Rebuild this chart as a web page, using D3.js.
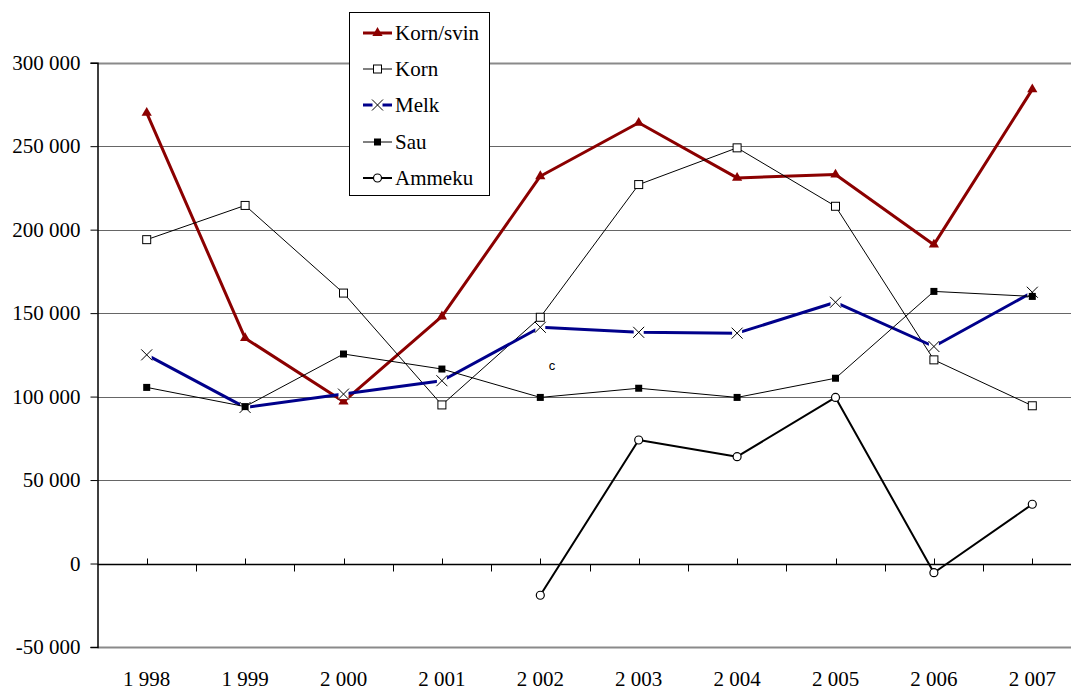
<!DOCTYPE html>
<html>
<head>
<meta charset="utf-8">
<script src="https://cdn.jsdelivr.net/npm/d3@7"></script>
<style>
  body { margin: 0; background: #fff; }
  svg { display: block; }
</style>
</head>
<body>
<svg id="chart" width="1071" height="690"></svg>
<script>
// Data
const years = [1998, 1999, 2000, 2001, 2002, 2003, 2004, 2005, 2006, 2007];
const kornSvin = [270000, 135000, 97000, 148000, 232000, 264000, 231000, 233000, 191000, 284000];
const korn = [194000, 214500, 162000, 95000, 147500, 227000, 249000, 214000, 122000, 94500];
const melk = [125000, 93500, 101500, 109500, 141500, 138500, 138000, 156500, 130000, 162500];
const sau = [105500, 94000, 125500, 116500, 99500, 105000, 99500, 111000, 163000, 160000];
const ammeku = [null, null, null, null, -19000, 74000, 64000, 99500, -5500, 35500];
const yTicks = [-50000, 0, 50000, 100000, 150000, 200000, 250000, 300000];

const series = [
  { name: "Korn/svin", values: kornSvin, color: "#8b0000", width: 3, marker: "triangle" },
  { name: "Korn", values: korn, color: "#000", width: 1, marker: "square-open" },
  { name: "Melk", values: melk, color: "#00008b", width: 3, marker: "x" },
  { name: "Sau", values: sau, color: "#000", width: 1, marker: "square" },
  { name: "Ammeku", values: ammeku, color: "#000", width: 2, marker: "circle" },
];

const svg = d3.select("#chart");
const serif = '"Liberation Serif"';

const locale = d3.formatLocale({ decimal: ",", thousands: " ", grouping: [3], currency: ["", ""], minus: "-" });
const fmt = locale.format(",d");

// scales
const x = d3.scaleBand().domain(years).range([97.5, 1081.5]);
const cx = (d) => x(d) + x.bandwidth() / 2;
const y = d3.scaleLinear().domain([-50000, 300000]).range([647, 62.7]);

// gridlines
svg.append("g")
  .selectAll("line")
  .data(yTicks.filter((d) => d !== 0))
  .join("line")
  .attr("x1", 97.5).attr("x2", 1071)
  .attr("y1", (d) => Math.round(y(d)) + 0.5).attr("y2", (d) => Math.round(y(d)) + 0.5)
  .attr("stroke", (d) => (d === 300000 || d === -50000 ? "#8a8a8a" : "#666"))
  .attr("stroke-width", (d) => (d === 300000 || d === -50000 ? 2 : 1));

// y axis
const yAxis = d3.axisLeft(y).tickValues(yTicks).tickSize(7).tickPadding(10).tickFormat(fmt);
const gy = svg.append("g").attr("transform", "translate(97.5,0)").call(yAxis);
gy.select(".domain").attr("stroke", "#000").attr("stroke-width", 1.5);
gy.selectAll(".tick line").attr("stroke", "#000");
gy.selectAll(".tick text")
  .style("font-family", serif).style("font-size", "21px").attr("fill", "#000");

// x axis at zero
const y0 = Math.round(y(0)) + 0.5;
svg.append("line").attr("x1", 97.5).attr("x2", 1071).attr("y1", y0).attr("y2", y0)
  .attr("stroke", "#000").attr("stroke-width", 1.3);
svg.append("g").selectAll("line").data(years).join("line")
  .attr("x1", (d) => Math.round(cx(d)) + 0.5).attr("x2", (d) => Math.round(cx(d)) + 0.5)
  .attr("y1", y0 - 6).attr("y2", y0).attr("stroke", "#000");
svg.append("g").selectAll("line").data(years.slice(1)).join("line")
  .attr("x1", (d) => Math.round(x(d)) + 0.5).attr("x2", (d) => Math.round(x(d)) + 0.5)
  .attr("y1", y0).attr("y2", y0 + 7).attr("stroke", "#000");

svg.append("g").selectAll("text").data(years).join("text")
  .attr("x", cx).attr("y", 686)
  .attr("text-anchor", "middle")
  .style("font-family", serif).style("font-size", "21px")
  .text((d) => fmt(d));

// markers
function drawMarker(g, type, color, px, py) {
  if (type === "triangle") {
    g.append("path").attr("d", d3.symbol(d3.symbolTriangle, 45)())
      .attr("transform", `translate(${px},${py})`).attr("fill", color);
  } else if (type === "square-open") {
    g.append("rect").attr("x", px - 4).attr("y", py - 4).attr("width", 8).attr("height", 8)
      .attr("fill", "#fff").attr("stroke", "#000").attr("stroke-width", 1);
  } else if (type === "square") {
    g.append("rect").attr("x", px - 3.5).attr("y", py - 3.5).attr("width", 7).attr("height", 7)
      .attr("fill", "#000");
  } else if (type === "x") {
    g.append("rect").attr("x", px - 5).attr("y", py - 5).attr("width", 10).attr("height", 10).attr("fill", "#fff");
    g.append("path").attr("d", `M${px - 5.5},${py - 5.5}L${px + 5.5},${py + 5.5}M${px - 5.5},${py + 5.5}L${px + 5.5},${py - 5.5}`)
      .attr("stroke", "#000").attr("stroke-width", 1);
  } else if (type === "circle") {
    g.append("circle").attr("cx", px).attr("cy", py).attr("r", 4)
      .attr("fill", "#fff").attr("stroke", "#000").attr("stroke-width", 1.2);
  }
}

// lines
const line = d3.line()
  .defined((d) => d.v !== null)
  .x((d) => cx(d.year))
  .y((d) => y(d.v));

series.forEach((s) => {
  const pts = years.map((yr, i) => ({ year: yr, v: s.values[i] }));
  const g = svg.append("g");
  g.append("path").datum(pts).attr("d", line)
    .attr("fill", "none").attr("stroke", s.color).attr("stroke-width", s.width)
    .attr("stroke-linejoin", "round");
  pts.filter((d) => d.v !== null).forEach((d) => drawMarker(g, s.marker, s.color, cx(d.year), y(d.v)));
});

// stray label
svg.append("text").attr("x", 552).attr("y", 370).attr("text-anchor", "middle")
  .style("font-family", '"Liberation Sans"').style("font-size", "13px").text("c");

// legend
const legend = svg.append("g");
legend.append("rect").attr("x", 349.5).attr("y", 12.5).attr("width", 140).attr("height", 183)
  .attr("fill", "#fff").attr("stroke", "#000").attr("stroke-width", 1);
const rowY = [33, 69, 105, 142, 178];
series.forEach((s, i) => {
  const ly = rowY[i];
  legend.append("line").attr("x1", 363).attr("x2", 392).attr("y1", ly).attr("y2", ly)
    .attr("stroke", s.color).attr("stroke-width", s.width);
  drawMarker(legend, s.marker, s.color, 377.5, ly);
  legend.append("text").attr("x", 395).attr("y", ly).attr("dy", "0.35em")
    .style("font-family", serif).style("font-size", "21px").text(s.name);
});
</script>
</body>
</html>
